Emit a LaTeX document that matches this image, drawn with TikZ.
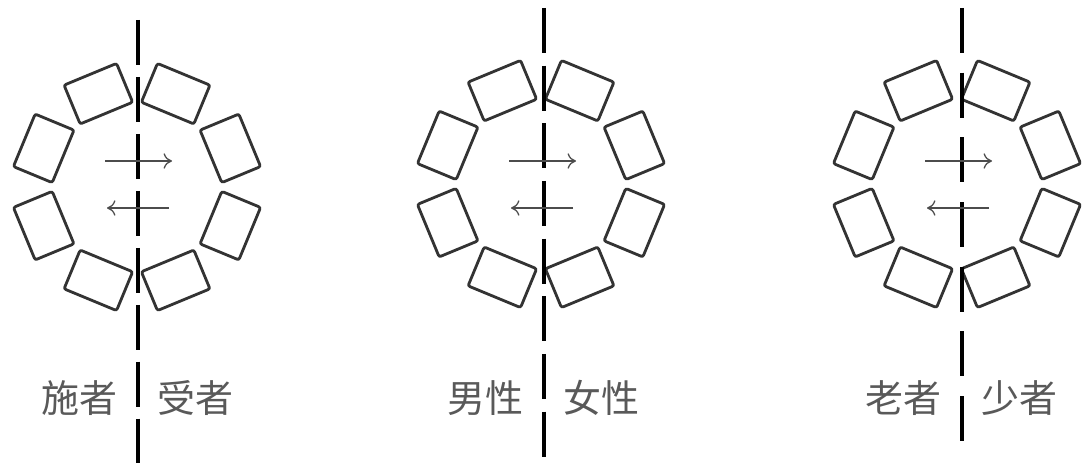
\documentclass[tikz,border=0pt]{standalone}
\usepackage{fontspec}
\newfontfamily\cjk{Noto Sans CJK SC}
\usetikzlibrary{arrows.meta, positioning}

\begin{document}
\begin{tikzpicture}[x=0.025cm, y=-0.025cm,
    seat/.style={rectangle, rounded corners=1.5pt, draw=black!80, line width=2pt, minimum width=1.42cm, minimum height=1.05cm},
    divider/.style={line width=2.8pt, black},
    flow/.style={-{To[length=6pt,width=11pt]}, line width=0.9pt, black!70},
    side/.style={text=black!65, font=\cjk\fontsize{27}{32}\selectfont}
]
    \useasboundingbox (0,0) rectangle (1082,464);
    % Three circles, each split by a dashed line
    \foreach \p/\cx/\cy/\lx/\ya/\yb/\gap/\lt/\rt in {a/137/187/138/20/463/8.5pt/施者/受者, b/541/184/544/8/457/9pt/男性/女性, c/957/184/962/8/447/14pt/老者/少者} {
        % Seats
        \foreach \a [count=\i] in {22.5,67.5,...,337.5}
            \node[seat, rotate=\a-90] (seat-\p\i) at ({\cx+101*cos(\a)},{\cy-101*sin(\a)}) {};
        % Divider
        \coordinate (top-\p) at (\lx,\ya);
        \coordinate (bot-\p) at (\lx,\yb);
        \draw[divider, dash pattern=on 32pt off \gap] (top-\p) -- (bot-\p);
        % Arrows
        \coordinate (ga-\p) at (\cx-32,161);
        \coordinate (gb-\p) at (\cx+35,161);
        \coordinate (ra-\p) at (\cx+32,208);
        \coordinate (rb-\p) at (\cx-30,208);
        \draw[flow] (ga-\p) -- (gb-\p);
        \draw[flow] (ra-\p) -- (rb-\p);
        % Labels
        \node[side] (left-\p) at (\lx-59,398) {\lt};
        \node[side] (right-\p) at (\lx+57,398) {\rt};
    }
\end{tikzpicture}
\end{document}
